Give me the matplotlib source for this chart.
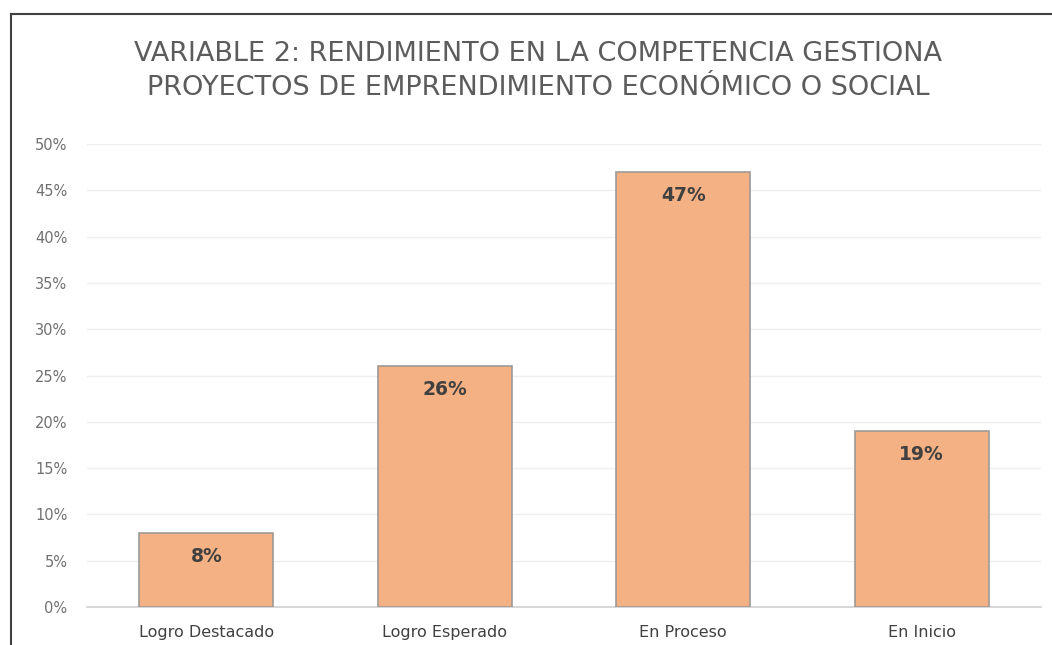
import matplotlib
matplotlib.use("Agg")
import matplotlib.pyplot as plt
from matplotlib.lines import Line2D
from matplotlib.ticker import FuncFormatter

categories = ["Logro Destacado", "Logro Esperado", "En Proceso", "En Inicio"]
values = [0.08, 0.26, 0.47, 0.19]
value_labels = ["8%", "26%", "47%", "19%"]
title = "VARIABLE 2: RENDIMIENTO EN LA COMPETENCIA GESTIONA\nPROYECTOS DE EMPRENDIMIENTO ECONÓMICO O SOCIAL"

W, H = 1052, 645
fig = plt.figure(figsize=(W/100, H/100), dpi=100)
ax = fig.add_axes([87/W, 1-607/H, (1041-87)/W, (607-144)/H])

x = list(range(len(categories)))
bars = ax.bar(x, values, width=0.56, color="#F4B183", edgecolor="#9E9A96", linewidth=1.2, zorder=3)

ax.set_xlim(-0.5, len(categories)-0.5)
ax.set_ylim(0, 0.5)
ax.set_yticks([i*0.05 for i in range(11)])
ax.yaxis.set_major_formatter(FuncFormatter(lambda v, p: f"{round(v*100)}%"))
ax.grid(axis="y", color="#EFEFEF", linewidth=1.0, zorder=0)
ax.set_axisbelow(True)
for s in ["top", "right", "left"]:
    ax.spines[s].set_visible(False)
ax.spines["bottom"].set_color("#D0D0D0")
ax.spines["bottom"].set_linewidth(1.2)
ax.tick_params(axis="both", length=0)
ax.tick_params(axis="y", pad=14, labelsize=10.5, labelcolor="#707070")
ax.tick_params(axis="x", pad=13, labelsize=11.5, labelcolor="#404040")
ax.set_xticks(x)
ax.set_xticklabels(categories, family="DejaVu Sans")
for lab in ax.get_yticklabels():
    lab.set_family("DejaVu Sans")

for xi, v, lab in zip(x, values, value_labels):
    ax.annotate(lab, (xi, v), xytext=(0, -17), textcoords="offset points",
                ha="center", va="center", fontsize=13.5, fontweight="bold",
                color="#404040", family="DejaVu Sans")

fig.text(538/W, 1-71/H, title, ha="center", va="center", fontsize=19.5,
         color="#5C5C5C", family="DejaVu Sans", linespacing=1.42)

fig.add_artist(Line2D([11/W, 11/W], [0, 1-14/H], color="#404040", linewidth=1.5))
fig.add_artist(Line2D([11/W, 1.0], [1-14/H, 1-14/H], color="#404040", linewidth=1.5))

fig.savefig("out.png", dpi=100)
